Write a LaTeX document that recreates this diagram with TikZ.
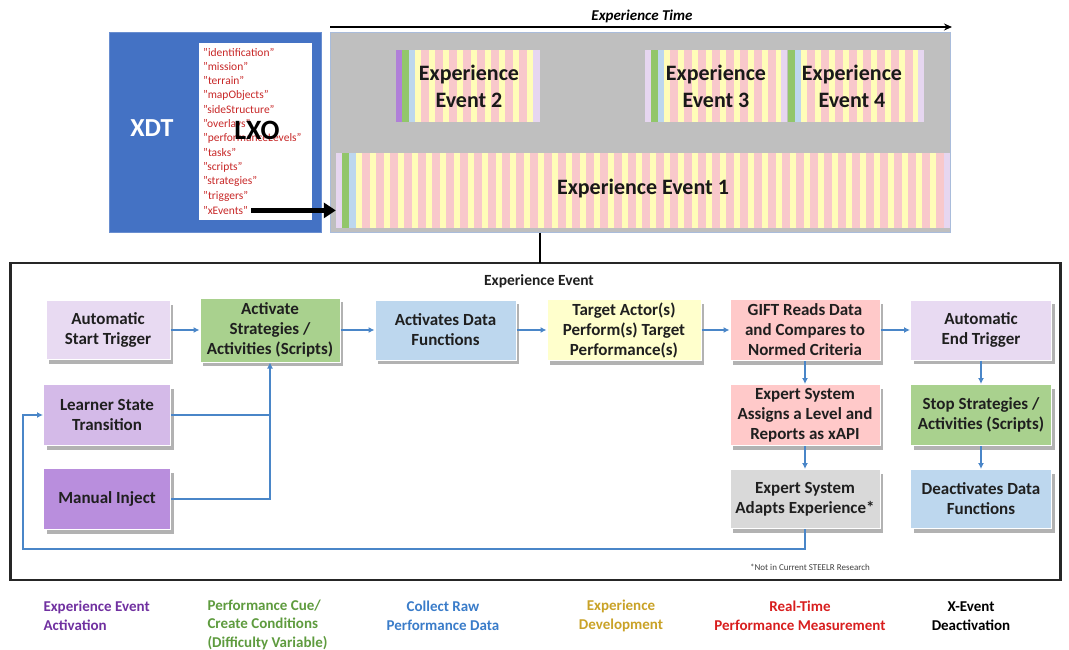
\documentclass[tikz,border=0pt]{standalone}
\usepackage{fontspec}
\setmainfont{Carlito}
\usetikzlibrary{arrows.meta,shadows}
\definecolor{xdtblue}{HTML}{4472C4}
\definecolor{stagegray}{HTML}{BFBFBF}
\definecolor{stageedge}{HTML}{A9BCDB}
\definecolor{clav}{HTML}{E8DAF2}
\definecolor{clearner}{HTML}{D4BAE8}
\definecolor{cmanual}{HTML}{B98EDD}
\definecolor{cgreen}{HTML}{A9D18E}
\definecolor{clblue}{HTML}{BDD7EE}
\definecolor{cyellow}{HTML}{FFFFCC}
\definecolor{cpink}{HTML}{FFC9C9}
\definecolor{cgray}{HTML}{D9D9D9}
\definecolor{connblue}{HTML}{4A86C8}
\definecolor{evpink}{HTML}{F8C8CB}
\definecolor{evyellow}{HTML}{FFFDB8}
\definecolor{evpurple}{HTML}{B07FD8}
\definecolor{evgreen}{HTML}{92C66A}
\definecolor{evblue}{HTML}{BDD7EE}
\definecolor{evlav}{HTML}{E6D6F0}
\definecolor{listred}{HTML}{C82828}
\definecolor{legpurple}{HTML}{7030A0}
\definecolor{leggreen}{HTML}{5E9B3E}
\definecolor{legblue}{HTML}{3A7CC9}
\definecolor{leggold}{HTML}{C9A227}
\definecolor{legred}{HTML}{D81E1E}
\newcommand\stripebar[4]{%
  \begin{scope}
    \clip (#1,#3) rectangle (#2,#4);
    \fill[evpink] (#1,#3) rectangle (#2,#4);
    \foreach \i in {0,...,45}{\fill[evyellow] ({#1+14*\i},#3) rectangle ({#1+14*\i+6},#4);}
  \end{scope}}
\tikzset{
  box/.style={rectangle, draw=white, line width=1pt, align=center,
    text=black!88, inner sep=1pt,
    font=\bfseries\fontsize{17}{20}\selectfont,
    drop shadow={shadow xshift=3pt, shadow yshift=-4pt, opacity=0.3, fill=black}},
  wh/.style 2 args={minimum width=#1pt, minimum height=#2pt},
  conn/.style={draw=connblue, line width=2pt, -{Latex[length=6pt,width=6pt]}},
  plainconn/.style={draw=connblue, line width=2pt},
  evtext/.style={align=center, font=\bfseries\fontsize{22}{27}\selectfont, text=black!90},
  listtxt/.style={anchor=west, inner sep=0pt, text=listred, font=\fontsize{11.5}{12}\selectfont},
  legend/.style={font=\bfseries\fontsize{15}{18.5}\selectfont},
}
\begin{document}
\begin{tikzpicture}[x=1pt,y=-1pt]
\useasboundingbox (0,0) rectangle (1069,650);
% XDT block
\node[rectangle, fill=xdtblue, draw=xdtblue!80!white, line width=1pt, minimum width=212pt, minimum height=199pt] (xdt) at (215,132.5) {};
\node[text=white, font=\bfseries\fontsize{26}{30}\selectfont] (xdtlabel) at (152,128) {XDT};
\node[rectangle, fill=white, minimum width=113pt, minimum height=177pt, inner sep=0pt] (lxobox) at (255.5,131.5) {};
\foreach \t [count=\n] in {identification,mission,terrain,mapObjects,sideStructure,overlays,performanceLevels,tasks,scripts,strategies,triggers,xEvents}
  \node[listtxt] (l\n) at (203,{37.6+14.4*\n}) {"\t"};
\node[font=\bfseries\fontsize{28}{32}\selectfont, text=black] (lxo) at (257,130) {LXO};
% stage
\node[rectangle, fill=stagegray, draw=stageedge, line width=1pt, minimum width=620pt, minimum height=199pt] (stage) at (640,132.5) {};
\coordinate (tl0) at (330,27);
\coordinate (tl1) at (952,27);
\draw[line width=2pt, -{Stealth[length=8pt,width=7pt]}] (tl0) -- (tl1);
\node[font=\bfseries\itshape\fontsize{15}{18}\selectfont] (timelabel) at (642,16) {Experience Time};
% event 2
\fill[evpurple] (396,50) rectangle (402,122);
\fill[evgreen] (402,50) rectangle (409,122);
\fill[evblue] (409,50) rectangle (415,122);
\stripebar{415}{533}{50}{122}
\fill[evlav] (533,50) rectangle (540,122);
\node[evtext] (ev2) at (469,86) {Experience\\Event 2};
% event 3
\fill[evlav] (645,50) rectangle (651,122);
\fill[evgreen] (651,50) rectangle (658,122);
\fill[evblue] (658,50) rectangle (664,122);
\stripebar{664}{781}{50}{122}
\fill[evlav] (781,50) rectangle (787,122);
\node[evtext] (ev3) at (716,86) {Experience\\Event 3};
% event 4
\fill[evgreen] (788,50) rectangle (795,122);
\fill[evblue] (795,50) rectangle (801,122);
\stripebar{801}{918}{50}{122}
\fill[evlav] (918,50) rectangle (924,122);
\node[evtext] (ev4) at (852,86) {Experience\\Event 4};
% event 1
\fill[evlav] (336,153) rectangle (342,228);
\fill[evgreen] (342,153) rectangle (349,228);
\fill[evblue] (349,153) rectangle (356,228);
\stripebar{356}{944}{153}{228}
\fill[evlav] (944,153) rectangle (950,228);
\node[minimum width=614pt, minimum height=75pt, inner sep=0pt] (ev1box) at (643,190.5) {};
\node[evtext] (ev1) at (643,189) {Experience Event 1};
% xEvents arrow
\draw[line width=5pt, -{Triangle[length=12pt,width=15pt]}] ([xshift=3pt]l12.east) -- (l12.east -| ev1box.west);
% frame
\node[rectangle, draw=black!85, line width=2.5pt, minimum width=1050pt, minimum height=317pt, inner sep=0pt, outer sep=0pt] (frame) at (535.5,421.5) {};
\coordinate (drop) at (540,263);
\draw[line width=1.3pt] (stage.south -| drop) -- (drop);
\node[font=\bfseries\fontsize{15.5}{18}\selectfont, text=black!88] (title) at (539,281) {Experience Event};
% boxes
\node[box, wh={124}{59}, fill=clav] (start) at (108,330) {Automatic\\Start Trigger};
\node[box, wh={140}{64}, fill=cgreen] (act) at (270,330) {Activate\\Strategies /\\Activities (Scripts)};
\node[box, wh={141}{60}, fill=clblue] (data) at (445.5,330) {Activates Data\\Functions};
\node[box, wh={154}{61}, fill=cyellow] (target) at (624,330) {Target Actor(s)\\Perform(s) Target\\Performance(s)};
\node[box, wh={150}{61}, fill=cpink] (gift) at (805,330) {GIFT Reads Data\\and Compares to\\Normed Criteria};
\node[box, wh={141}{60}, fill=clav] (endt) at (981,330) {Automatic\\End Trigger};
\node[box, wh={127}{61}, fill=clearner] (learner) at (107,415) {Learner State\\Transition};
\node[box, wh={127}{61}, fill=cmanual] (manual) at (107,499) {Manual Inject};
\node[box, wh={150}{61}, fill=cpink] (assign) at (805,415) {Expert System\\Assigns a Level and\\Reports as xAPI};
\node[box, wh={150}{59}, fill=cgray] (adapt) at (805,499) {Expert System\\Adapts Experience*};
\node[box, wh={141}{61}, fill=cgreen] (stop) at (981,415) {Stop Strategies /\\Activities (Scripts)};
\node[box, wh={141}{59}, fill=clblue] (deact) at (981,499) {Deactivates Data\\Functions};
% connectors
\draw[conn] (start) -- (act);
\draw[conn] (act) -- (data);
\draw[conn] (data) -- (target);
\draw[conn] (target) -- (gift);
\draw[conn] (gift) -- (endt);
\draw[conn] (gift) -- (assign);
\draw[conn] (assign) -- (adapt);
\draw[conn] (endt) -- (stop);
\draw[conn] (stop) -- (deact);
\draw[plainconn] (learner.east) -- (learner.east -| act.south);
\draw[conn] (manual.east) -| (act.south);
\coordinate (loop) at (23,549);
\draw[conn] (adapt.south) |- (loop) |- (learner.west);
\node[font=\fontsize{9}{11}\selectfont, text=black!75] (note) at (810,567) {*Not in Current STEELR Research};
% legend
\node[legend, text=legpurple, align=left, anchor=west] (lg1) at (40,616) {Experience Event\\Activation};
\node[legend, text=leggreen, align=left, anchor=west] (lg2) at (204,624.5) {Performance Cue/\\Create Conditions\\(Difficulty Variable)};
\node[legend, text=legblue, align=center] (lg3) at (443,616) {Collect Raw\\Performance Data};
\node[legend, text=leggold, align=center] (lg4) at (621,616) {Experience\\Development};
\node[legend, text=legred, align=center] (lg5) at (800,616) {Real-Time\\Performance Measurement};
\node[legend, text=black, align=center] (lg6) at (971,616) {X-Event\\Deactivation};
\end{tikzpicture}
\end{document}
